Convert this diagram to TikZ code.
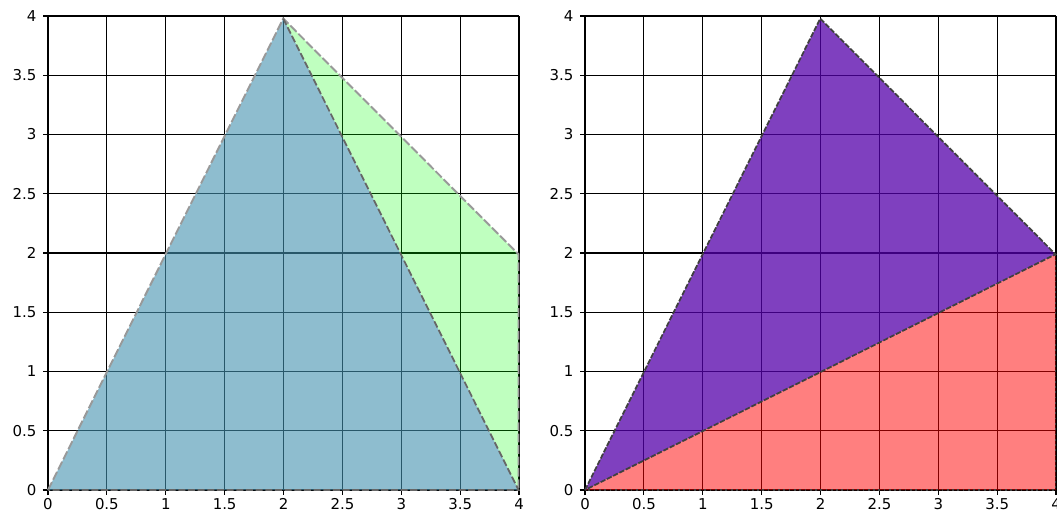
\documentclass[tikz,border=0pt]{standalone}
\usepackage{fontspec}
\setmainfont{DejaVu Sans}

\definecolor{hullgreen}{RGB}{0,255,0}
\definecolor{triblue}{RGB}{67,145,175}
\definecolor{tripurple}{RGB}{84,0,170}
\definecolor{trired}{RGB}{255,0,0}

\tikzset{
    gridline/.style = {black, line width = 0.6pt},
    ticklabel/.style = {font = \fontsize{8.5}{10}\selectfont, inner sep = 0pt},
    lightedge/.style = {draw = black!40, line width = 1.1pt, dash pattern = on 5pt off 1.5pt},
    darkedge/.style = {draw = black!60, line width = 1pt, dash pattern = on 4pt off 1.5pt},
    inkedge/.style = {draw = black!75, line width = 1pt, dash pattern = on 3pt off 1pt},
    dotedge/.style = {draw = black!75, line width = 1pt, dash pattern = on 1pt off 2pt}
}

% Grid, axes, ticks and tick labels of one plot; #1 prefixes the node names.
\newcommand{\plotframe}[1]{%
    \foreach \v in {0.5,1,1.5,2,2.5,3,3.5,4} {%
        \draw [gridline] (\v,0) -- (\v,4);
        \draw [gridline] (0,\v) -- (4,\v);
    }
    \draw [gridline] (-0.045,0) -- (4,0);
    \draw [gridline] (0,-0.045) -- (0,4);
    \foreach \v [count = \i] in {0,0.5,1,1.5,2,2.5,3,3.5,4} {%
        \draw [gridline] (\v,0) -- (\v,-0.045);
        \draw [gridline] (0,\v) -- (-0.045,\v);
        \node [ticklabel, anchor = north] (#1x\i) at (\v,-0.07) {\v};
        \node [ticklabel, anchor = east] (#1y\i) at (-0.095,\v) {\v};
    }
}

\begin{document}
\begin{tikzpicture}[x = 0.02cm, y = -0.02cm]
    \useasboundingbox (0,0) rectangle (1057,520);

    % Left plot: blue triangle over the green hull.
    \begin{scope}[shift = {(48,490)}, xscale = 117.75, yscale = -118.5]
        \plotframe{L}

        \coordinate (lo) at (0,0);
        \coordinate (la) at (2,4);
        \coordinate (lb) at (4,2);
        \coordinate (lc) at (4,0);

        \fill [hullgreen, opacity = 0.25] (la) -- (lb) -- (lc) -- cycle;
        \fill [triblue, opacity = 0.6] (lo) -- (la) -- (lc) -- cycle;
        \draw [lightedge] (lo) -- (la) -- (lb) -- (lc);
        \draw [darkedge] (la) -- (lc) -- (lo);
    \end{scope}

    % Right plot: purple and red triangles.
    \begin{scope}[shift = {(585,490)}, xscale = 117.75, yscale = -118.5]
        \plotframe{R}

        \coordinate (ro) at (0,0);
        \coordinate (ra) at (2,4);
        \coordinate (rb) at (4,2);
        \coordinate (rc) at (4,0);

        \fill [tripurple, opacity = 0.75] (ro) -- (ra) -- (rb) -- cycle;
        \fill [trired, opacity = 0.5] (ro) -- (rb) -- (rc) -- cycle;
        \draw [inkedge] (ro) -- (ra) -- (rb) -- cycle;
        \draw [dotedge] (rb) -- (rc) -- (ro);
    \end{scope}
\end{tikzpicture}
\end{document}
